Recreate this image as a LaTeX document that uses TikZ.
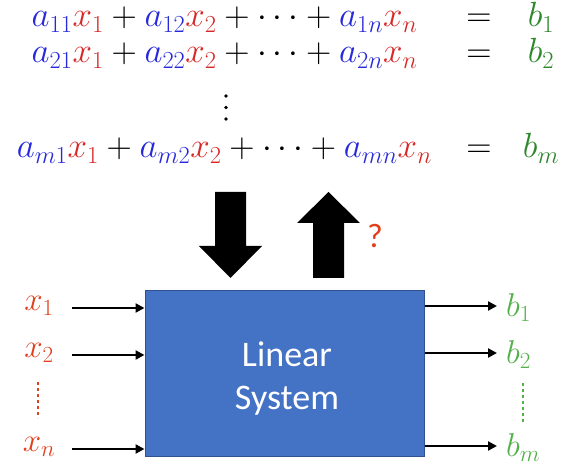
\RequirePackage{fix-cm}
\documentclass[tikz,border=0pt]{standalone}
\usepackage{fontspec}
\newfontfamily\carlito{Carlito}
\usetikzlibrary{arrows.meta,positioning,calc}
\definecolor{coefblue}{RGB}{40,40,220}
\definecolor{varred}{RGB}{215,40,40}
\definecolor{rhsgreen}{RGB}{45,135,45}
\definecolor{inred}{RGB}{224,62,28}
\definecolor{outgreen}{RGB}{84,176,74}
\definecolor{sysblue}{RGB}{68,114,196}
\definecolor{sysedge}{RGB}{47,82,143}
\newcommand{\coefa}[1]{{\color{coefblue}a_{#1}}}
\newcommand{\varx}[1]{{\color{varred}x_{#1}}}
\tikzset{
  >={Triangle[length=9pt,width=9pt]},
  eqn/.style={anchor=base,inner sep=0pt,font=\fontsize{35}{42}\selectfont},
  sysbox/.style={fill=sysblue,draw=sysedge,line width=1pt,minimum width=279pt,
    minimum height=166pt,inner sep=0pt},
  sysname/.style={text=white,align=center,font=\carlito\fontsize{36}{43}\selectfont},
  wire/.style={->,line width=2.4pt},
  sig/.style={anchor=base,inner sep=0pt,font=\fontsize{33}{40}\selectfont},
  gap/.style={draw=#1,line width=2.6pt,dash pattern=on 2.6pt off 3.4pt},
  gap/.default=black,
}
\begin{document}
\begin{tikzpicture}[x=1pt,y=-1pt]
  \useasboundingbox (0,0) rectangle (566,473);
  % the system of equations
  \foreach \i/\ypos in {1/27,2/63,m/158} {
    \node[eqn] (lhs\i) at (224.5,\ypos) {$\coefa{\i1}\varx{1}+\coefa{\i2}\varx{2}+\cdots+\coefa{\i n}\varx{n}$};
    \node[eqn] (eq\i) at (479,\ypos) {$=$};
    \node[eqn,text=rhsgreen] (rhs\i) at (541,\ypos) {$b_{\i}$};
  }
  \foreach \dy in {96,107.5,119} \fill (226,\dy) circle (1.8);
  % block arrows
  \fill (215,192) -- (246,192) -- (246,246) -- (262,246) -- (230.5,278) -- (199,246) -- (215,246) -- cycle;
  \fill (313,278) -- (344,278) -- (344,223) -- (360,223) -- (328.5,192) -- (297,223) -- (313,223) -- cycle;
  \node[text=inred,font=\carlito\fontsize{34}{40}\selectfont] (ask) at (375,236) {?};
  % the box
  \node[sysbox] (sys) at (284.5,374) {};
  \node[sysname] (sysname) at (287,379) {Linear\\System};
  \foreach \xs/\bs/\yi/\yo in {1/1/308/306,2/2/355/353,n/m/449/446} {
    \coordinate (in\xs) at (72,\yi);
    \draw[wire] (in\xs) -- (in\xs -| sys.west);
    \node[sig,text=inred] (x\xs) at (39,\yi+3) {$x_{\xs}$};
    \coordinate (out\bs) at (497,\yo);
    \draw[wire] (out\bs -| sys.east) -- (out\bs);
    \node[sig,anchor=base west,text=outgreen] (b\bs) at (506,\yo+11) {$b_{\bs}$};
  }
  \draw[gap=inred] (38,382) -- (38,418);
  \draw[gap=outgreen] (523,383) -- (523,422);
\end{tikzpicture}
\end{document}
